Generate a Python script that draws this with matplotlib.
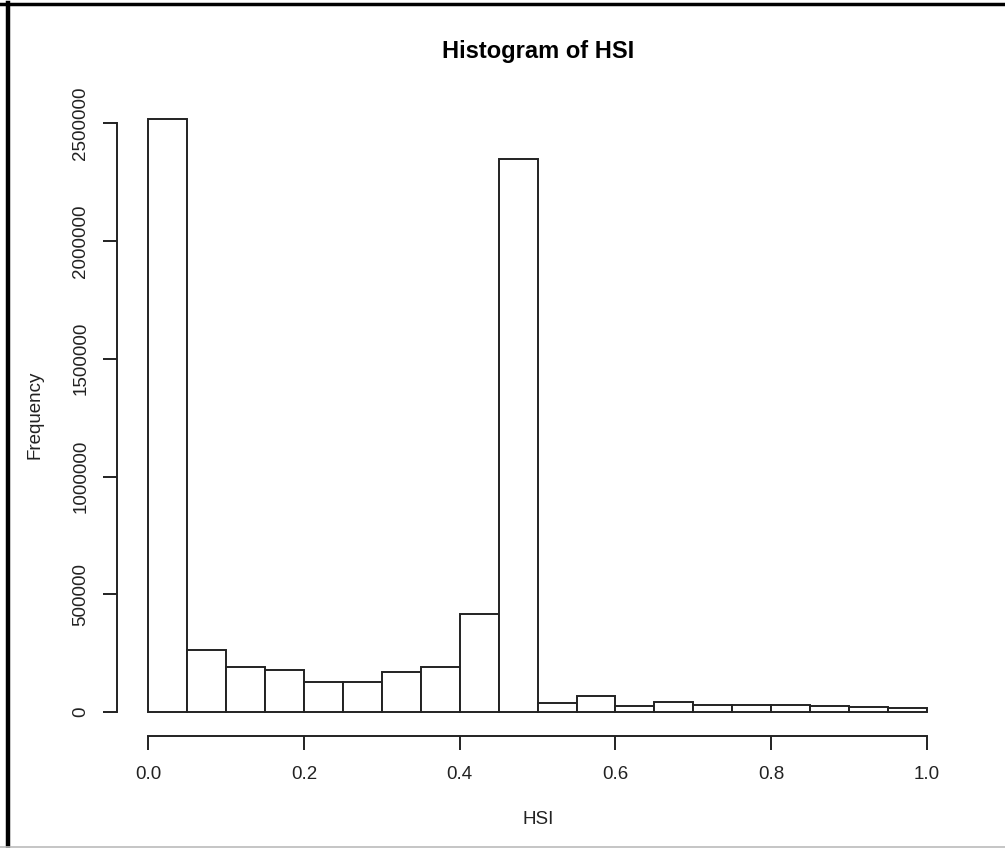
import matplotlib
matplotlib.use("Agg")
import matplotlib.pyplot as plt
from matplotlib.lines import Line2D
import numpy as np

# Data
bin_edges = [round(0.05 * i, 2) for i in range(21)]
counts = [2518000, 264000, 193000, 179000, 129000, 129000, 172000, 193000,
          417000, 2348000, 38000, 68000, 26000, 43000, 31000, 31000, 31000,
          26000, 21000, 16000]
x_ticks = [0.0, 0.2, 0.4, 0.6, 0.8, 1.0]
x_tick_labels = ["0.0", "0.2", "0.4", "0.6", "0.8", "1.0"]
y_ticks = [0, 500000, 1000000, 1500000, 2000000, 2500000]
y_tick_labels = ["0", "500000", "1000000", "1500000", "2000000", "2500000"]
title = "Histogram of HSI"
x_label = "HSI"
y_label = "Frequency"

plt.rcParams['font.family'] = ['Liberation Sans', 'DejaVu Sans']

fig = plt.figure(figsize=(10.05, 8.48), dpi=100)
ax = fig.add_axes([0.1166, 0.1324, 0.8367, 0.7552])

lefts = np.array(bin_edges[:-1])
widths = np.diff(bin_edges)
ax.bar(lefts, counts, width=widths, align='edge', facecolor='white',
       edgecolor='#222222', linewidth=1.4)

ymax = max(counts)
ax.set_xlim(-0.04, 1.04)
ax.set_ylim(-0.04 * ymax, 1.04 * ymax)

for s in ['top', 'right']:
    ax.spines[s].set_visible(False)
ax.spines['left'].set_bounds(y_ticks[0], y_ticks[-1])
ax.spines['bottom'].set_bounds(x_ticks[0], x_ticks[-1])
for s in ['left', 'bottom']:
    ax.spines[s].set_linewidth(1.4)
    ax.spines[s].set_color('#222222')

ax.set_xticks(x_ticks)
ax.set_xticklabels(x_tick_labels)
ax.set_yticks(y_ticks)
ax.set_yticklabels(y_tick_labels, rotation=90, va='center')
ax.tick_params(axis='both', length=10, width=1.4, color='#222222',
               labelsize=13.5, labelcolor='#222222')
ax.tick_params(axis='x', pad=12)
ax.tick_params(axis='y', pad=10)

fig.text(0.5352, 1 - 51.5 / 848, title, ha='center', va='center',
         fontsize=17, fontweight='bold')
fig.text(0.5352, 1 - 820 / 848, x_label, ha='center', va='center',
         fontsize=13.5, color='#222222')
fig.text(35 / 1005, 1 - 415 / 848, y_label, ha='center', va='center',
         rotation=90, fontsize=13.5, color='#222222')

# window frame as in the screenshot
fig.add_artist(Line2D([0, 1], [1 - 3.5 / 848] * 2, transform=fig.transFigure,
                      color='black', linewidth=2.5))
fig.add_artist(Line2D([8 / 1005] * 2, [0, 1 - 2.5 / 848], transform=fig.transFigure,
                      color='black', linewidth=3.2))
fig.add_artist(Line2D([0, 1], [1 - 846.5 / 848] * 2, transform=fig.transFigure,
                      color='#bbbbbb', linewidth=1.2))

fig.savefig("out.png", dpi=100)
